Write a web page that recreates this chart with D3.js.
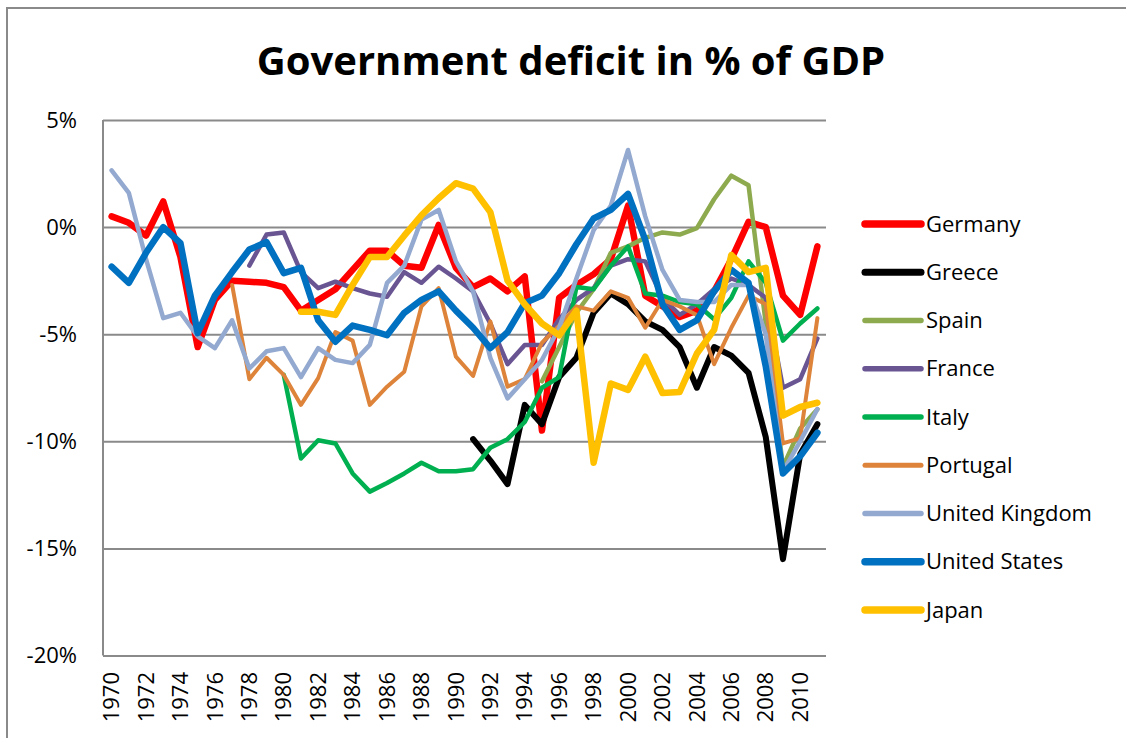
<!DOCTYPE html>
<html>
<head>
<meta charset="utf-8">
<script src="https://cdn.jsdelivr.net/npm/d3@7"></script>
<style>
	body { margin: 0; background: #fff; }
	svg { display: block; font-family: "Open Sans", "Liberation Sans", sans-serif; }
</style>
</head>
<body>
<script>
	// Years on the category axis
	let years = d3.range(1970, 2012);
	let yTicks = [5, 0, -5, -10, -15, -20];

	// Series values, one per year (null = no data)
	let germany = [0.5, 0.2, -0.4, 1.2, -1.4, -5.6, -3.4, -2.5, -2.55, -2.6,
		-2.8, -3.9, -3.4, -2.9, -2.0, -1.1, -1.1, -1.8, -1.9, 0.1,
		-1.9, -2.8, -2.4, -3.0, -2.3, -9.5, -3.3, -2.7, -2.2, -1.5,
		1.0, -3.2, -3.7, -4.2, -3.9, -3.0, -1.5, 0.25, 0.0, -3.2, -4.1, -0.9];
	let greece = [null, null, null, null, null, null, null, null, null, null,
		null, null, null, null, null, null, null, null, null, null,
		null, -9.9, -10.9, -12.0, -8.3, -9.2, -7.0, -6.1, -4.0, -3.1,
		-3.6, -4.4, -4.8, -5.6, -7.5, -5.6, -6.0, -6.8, -9.8, -15.5, -10.6, -9.2];
	let spain = [null, null, null, null, null, null, null, null, null, null,
		null, null, null, null, null, null, null, null, null, null,
		null, null, null, null, null, -7.2, -5.6, -4.0, -2.9, -1.2,
		-0.9, -0.5, -0.25, -0.35, -0.05, 1.3, 2.4, 1.95, -4.5, -11.2, -9.4, -8.5];
	let france = [null, null, null, null, null, null, null, null, -1.8, -0.35,
		-0.25, -2.1, -2.85, -2.55, -2.85, -3.1, -3.25, -2.1, -2.6, -1.85,
		-2.4, -3.0, -4.5, -6.4, -5.5, -5.5, -4.3, -3.4, -2.85, -1.8,
		-1.5, -1.6, -3.3, -4.1, -3.6, -2.9, -2.4, -2.7, -3.3, -7.5, -7.1, -5.2];
	let italy = [null, null, null, null, null, null, null, null, null, null,
		-6.9, -10.8, -9.95, -10.1, -11.5, -12.35, -11.95, -11.5, -11.0, -11.4,
		-11.4, -11.3, -10.3, -9.9, -9.1, -7.5, -7.0, -2.8, -2.9, -1.8,
		-0.9, -3.1, -3.2, -3.5, -3.6, -4.3, -3.3, -1.6, -2.6, -5.3, -4.5, -3.8];
	let portugal = [null, null, null, null, null, null, null, -2.7, -7.1, -6.1,
		-6.9, -8.3, -7.05, -4.9, -5.3, -8.3, -7.45, -6.75, -3.7, -2.85,
		-6.05, -6.95, -4.4, -7.45, -7.1, -5.4, -4.6, -3.7, -3.9, -3.0,
		-3.3, -4.7, -3.4, -3.7, -4.1, -6.4, -4.7, -3.2, -3.6, -10.1, -9.85, -4.25];
	let uk = [2.65, 1.6, -1.5, -4.25, -4.0, -5.1, -5.65, -4.35, -6.6, -5.8,
		-5.65, -7.0, -5.65, -6.2, -6.35, -5.5, -2.6, -1.8, 0.35, 0.8,
		-1.6, -3.0, -6.1, -8.0, -7.1, -6.2, -4.7, -2.4, -0.15, 1.0,
		3.6, 0.5, -2.0, -3.4, -3.5, -3.5, -2.7, -2.7, -5.0, -11.4, -10.0, -8.5];
	let us = [-1.85, -2.6, -1.2, 0.0, -0.75, -4.95, -3.2, -2.1, -1.05, -0.7,
		-2.15, -1.9, -4.35, -5.35, -4.6, -4.8, -5.05, -4.0, -3.4, -3.0,
		-3.9, -4.7, -5.65, -4.9, -3.55, -3.2, -2.15, -0.8, 0.4, 0.8,
		1.55, -0.6, -3.6, -4.8, -4.35, -3.0, -2.0, -2.6, -6.5, -11.5, -10.7, -9.6];
	let japan = [null, null, null, null, null, null, null, null, null, null,
		null, -3.95, -3.95, -4.1, -2.7, -1.4, -1.4, -0.4, 0.55, 1.35,
		2.05, 1.8, 0.7, -2.5, -3.6, -4.5, -5.05, -3.9, -11.0, -7.3,
		-7.6, -6.05, -7.75, -7.7, -5.9, -4.8, -1.3, -2.1, -1.9, -8.8, -8.4, -8.2];

	let names = ['Germany', 'Greece', 'Spain', 'France', 'Italy', 'Portugal', 'United Kingdom', 'United States', 'Japan'];
	let values = [germany, greece, spain, france, italy, portugal, uk, us, japan];

	// Look of each series
	let colors = ['#ff0000', '#000000', '#8eaa4e', '#6a5593', '#00b050', '#dd843a', '#93a9cf', '#0070c0', '#ffc000'];
	let widths = [6.5, 6, 4.5, 4.5, 4.5, 4, 4.5, 6.5, 6.5];

	let series = names.map((name, i) => ({name: name, values: values[i], color: colors[i], width: widths[i]}));

	let W = 1126, H = 738,
		plot = {left: 103, right: 826, top: 120, bottom: 655.5};

	let svg = d3.select('body').append('svg')
		.attr('width', W)
		.attr('height', H);

	// Outer chart frame
	svg.append('rect')
		.attr('x', 7).attr('y', 8)
		.attr('width', W + 10).attr('height', H + 10)
		.attr('fill', 'none')
		.attr('stroke', '#8a8a8a')
		.attr('stroke-width', 2);

	// Title
	svg.append('text')
		.attr('x', 571)
		.attr('y', 75)
		.attr('text-anchor', 'middle')
		.attr('font-size', 40)
		.attr('font-weight', 'bold')
		.text('Government deficit in % of GDP');

	// Scales
	let x = d3.scaleBand()
		.domain(years)
		.range([plot.left, plot.right]);
	let y = d3.scaleLinear()
		.domain([-20, 5])
		.range([plot.bottom, plot.top]);

	// Gridlines + y labels
	let yAxis = svg.append('g')
		.attr('transform', 'translate(' + plot.left + ',0)')
		.call(d3.axisLeft(y)
			.tickValues(yTicks)
			.tickSize(-(plot.right - plot.left))
			.tickPadding(26)
			.tickFormat(d => d + '%'));
	yAxis.select('.domain')
		.attr('stroke', '#8a8a8a')
		.attr('stroke-width', 2)
		.attr('d', 'M0,' + plot.top + 'V' + plot.bottom);
	yAxis.selectAll('.tick line')
		.attr('stroke', '#8a8a8a')
		.attr('stroke-width', 2);
	yAxis.selectAll('.tick text')
		.attr('font-size', 22)
		.attr('font-family', '"Open Sans", sans-serif')
		.attr('fill', '#000');

	// Year labels, every other year, rotated
	svg.append('g')
		.selectAll('text')
		.data(years.filter(d => d % 2 === 0))
		.enter()
			.append('text')
			.attr('transform', d => 'translate(' + (x(d) + x.bandwidth() / 2) + ',672) rotate(-90)')
			.attr('text-anchor', 'end')
			.attr('dy', '0.35em')
			.attr('font-size', 22)
			.text(d => d);

	// Lines
	let line = d3.line()
		.defined(d => d.v != null)
		.x(d => x(d.year) + x.bandwidth() / 2)
		.y(d => y(d.v));

	svg.append('g')
		.selectAll('path')
		.data(series)
		.enter()
			.append('path')
			.attr('fill', 'none')
			.attr('stroke', d => d.color)
			.attr('stroke-width', d => d.width)
			.attr('stroke-linejoin', 'round')
			.attr('stroke-linecap', 'round')
			.attr('d', d => line(d.values.map((v, i) => ({year: years[i], v: v}))));

	// Legend
	let legend = svg.append('g')
		.selectAll('g')
		.data(series)
		.enter()
			.append('g')
			.attr('transform', (d, i) => 'translate(865,' + (224 + i * 48.25) + ')');
	legend.append('line')
		.attr('x1', 0).attr('x2', 56)
		.attr('stroke', d => d.color)
		.attr('stroke-width', d => d.width + 1)
		.attr('stroke-linecap', 'round');
	legend.append('text')
		.attr('x', 61)
		.attr('dy', '0.35em')
		.attr('font-size', 22)
		.text(d => d.name);
</script>
</body>
</html>
